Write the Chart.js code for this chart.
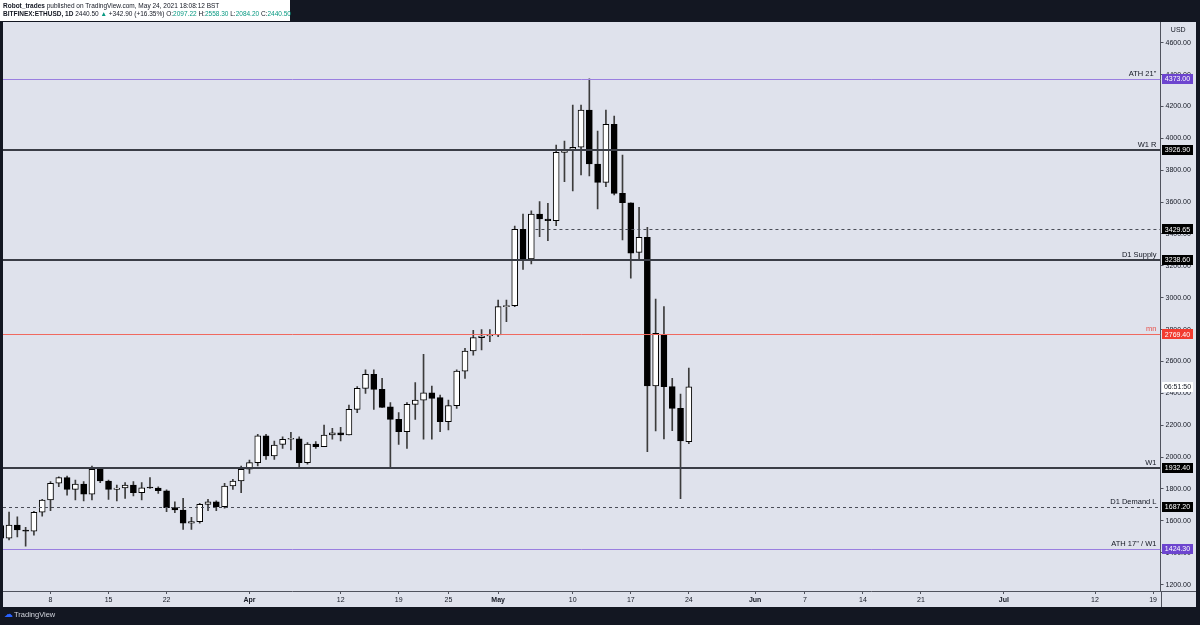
<!DOCTYPE html>
<html>
<head>
<meta charset="utf-8">
<script src="https://cdn.jsdelivr.net/npm/chart.js@4.4.1/dist/chart.umd.min.js"></script>
<style>
  html, body { margin:0; padding:0; width:1200px; height:625px; overflow:hidden; background:#131722; font-family:"Liberation Sans", Arial, sans-serif; }
  #c { position:absolute; left:0; top:0; }
  #hdr { position:absolute; left:0; top:0; width:290px; height:21px; background:#ffffff; color:#131722; font-size:6.5px; line-height:8px; padding:2px 0 0 3px; box-sizing:border-box; white-space:nowrap; }
  #hdr b { font-weight:bold; }
  #hdr .g { color:#089981; }
  #ftr { position:absolute; left:4px; top:609px; color:#d1d4dc; font-size:7.5px; line-height:10px; white-space:nowrap; }
  #ftr .logo { color:#2962ff; font-size:9px; margin-right:1px; }
</style>
</head>
<body>
<canvas id="c" width="1200" height="625"></canvas>
<div id="hdr">
  <div><b>Robot_trades</b> published on TradingView.com, May 24, 2021 18:08:12 BST</div>
  <div><b>BITFINEX:ETHUSD, 1D</b> 2440.50 <span class="g">▲</span> +342.90 (+16.35%) O:<span class="g">2097.22</span> H:<span class="g">2558.30</span> L:<span class="g">2084.20</span> C:<span class="g">2440.50</span></div>
</div>
<div id="ftr"><span class="logo">☁</span>TradingView</div>
<script>
// ---------------- DATA ----------------
const days = [
 '2021-03-02','2021-03-03','2021-03-04','2021-03-05','2021-03-06','2021-03-07','2021-03-08','2021-03-09','2021-03-10','2021-03-11',
 '2021-03-12','2021-03-13','2021-03-14','2021-03-15','2021-03-16','2021-03-17','2021-03-18','2021-03-19','2021-03-20','2021-03-21',
 '2021-03-22','2021-03-23','2021-03-24','2021-03-25','2021-03-26','2021-03-27','2021-03-28','2021-03-29','2021-03-30','2021-03-31',
 '2021-04-01','2021-04-02','2021-04-03','2021-04-04','2021-04-05','2021-04-06','2021-04-07','2021-04-08','2021-04-09','2021-04-10',
 '2021-04-11','2021-04-12','2021-04-13','2021-04-14','2021-04-15','2021-04-16','2021-04-17','2021-04-18','2021-04-19','2021-04-20',
 '2021-04-21','2021-04-22','2021-04-23','2021-04-24','2021-04-25','2021-04-26','2021-04-27','2021-04-28','2021-04-29','2021-04-30',
 '2021-05-01','2021-05-02','2021-05-03','2021-05-04','2021-05-05','2021-05-06','2021-05-07','2021-05-08','2021-05-09','2021-05-10',
 '2021-05-11','2021-05-12','2021-05-13','2021-05-14','2021-05-15','2021-05-16','2021-05-17','2021-05-18','2021-05-19','2021-05-20',
 '2021-05-21','2021-05-22','2021-05-23','2021-05-24'
];
const opens = [
 1570,1491,1574,1543,1535,1654,1731,1836,1871,1798,
 1831,1768,1924,1850,1798,1806,1825,1777,1808,1806,
 1789,1683,1668,1585,1595,1704,1720,1689,1819,1850,
 1924,1965,2134,2007,2080,2112,2114,1965,2082,2065,
 2139,2153,2139,2300,2431,2519,2425,2316,2237,2160,
 2331,2358,2404,2373,2222,2323,2540,2666,2750,2760,
 2766,2944,2950,3429,3243,3525,3494,3483,3912,3931,
 3944,4178,3839,3724,4088,3655,3596,3285,3379,2446,
 2771,2442,2306,2097.22
];
const highs = [
 1600,1655,1626,1560,1660,1735,1846,1877,1881,1856,
 1846,1944,1935,1856,1825,1840,1846,1840,1871,1814,
 1794,1720,1741,1622,1710,1735,1726,1836,1861,1944,
 1982,2143,2143,2101,2128,2155,2128,2091,2097,2201,
 2180,2187,2327,2442,2547,2547,2494,2342,2279,2342,
 2467,2645,2446,2390,2358,2547,2682,2795,2800,2800,
 2986,2986,3450,3525,3546,3603,3592,3958,3983,4209,
 4209,4373,4046,4178,4140,3895,3596,3567,3442,2992,
 2944,2494,2396,2558.30
];
const lows = [
 1462,1480,1500,1442,1511,1630,1664,1814,1762,1731,
 1725,1731,1840,1735,1725,1741,1756,1731,1804,1773,
 1657,1651,1547,1547,1585,1664,1664,1679,1798,1777,
 1898,1944,1986,1986,2055,2045,1940,1955,2055,2065,
 2112,2101,2139,2279,2400,2300,2312,1930,2080,2055,
 2237,2112,2112,2160,2170,2306,2494,2640,2672,2724,
 2756,2850,2944,3178,3212,3383,3358,3452,3728,3670,
 3770,3764,3557,3697,3645,3362,3122,3241,2034,2164,
 2114,2166,1740,2084.20
];
const closes = [
 1491,1574,1543,1535,1654,1731,1836,1871,1798,1831,
 1768,1924,1850,1798,1806,1825,1777,1808,1806,1789,
 1683,1668,1585,1595,1704,1720,1689,1819,1850,1924,
 1965,2134,2007,2076,2112,2114,1965,2082,2065,2139,
 2153,2139,2300,2431,2519,2425,2312,2237,2160,2331,
 2358,2404,2369,2222,2323,2540,2666,2750,2760,2770,
 2944,2950,3429,3243,3525,3494,3483,3912,3931,3944,
 4178,3839,3724,4088,3655,3596,3279,3379,2446,2777,
 2442,2306,2101,2440.50
];
const tickDates = ['2021-03-08','2021-03-15','2021-03-22','2021-04-01','2021-04-12','2021-04-19','2021-04-25','2021-05-01','2021-05-10','2021-05-17','2021-05-24','2021-06-01','2021-06-07','2021-06-14','2021-06-21','2021-07-01','2021-07-12','2021-07-19'];
const tickLabels = ['8','15','22','Apr','12','19','25','May','10','17','24','Jun','7','14','21','Jul','12','19'];
const priceTicks = [1200,1400,1600,1800,2000,2200,2400,2600,2800,3000,3200,3400,3600,3800,4000,4200,4400,4600];
const levelPrices = [4373.00, 3926.90, 3429.65, 3238.60, 2769.40, 1932.40, 1687.20, 1424.30];
const levelNames = ["ATH 21''", 'W1 R', '', 'D1 Supply', 'mn', 'W1', 'D1 Demand L', "ATH 17'' / W1"];
const levelFrom = [null, null, '2021-05-06', null, null, null, null, null];
const levelKinds = ['purple','dark','dash','dark','red','dark','dash','purple'];
const countdownPrice = 2440.50;
const countdownText = '06:51:50';
const axisUnit = 'USD';
const viewStart = '2021-03-02';
const viewEnd = '2021-07-20';

// ---------------- STYLES ----------------
const KIND = {
  purple: { line:'#9a7fe0', width:1, dash:[],    box:'#6d45cf', text:'#131722' },
  dark:   { line:'#3a3d46', width:2, dash:[],    box:'#000000', text:'#131722' },
  dash:   { line:'#4a4d57', width:1, dash:[3,3], box:'#000000', text:'#131722' },
  red:    { line:'#f0695f', width:1, dash:[],    box:'#f23b30', text:'#e8504a' }
};
const BG = '#dfe2ec', AXIS = '#50535e', TXT = '#131722';
const PANEL = { left:3, top:22, right:1196, bottom:607 };

const DAY = 86400000;
const origin = Date.parse('2021-03-08');
const dayNum = s => (Date.parse(s) - origin) / DAY;

const xs = days.map(dayNum);
const bodyData = days.map((d, i) => ({ x: xs[i], y: [opens[i], closes[i]] }));
const wickData = days.map((d, i) => ({ x: xs[i], y: [lows[i], highs[i]] }));
const upFlags = days.map((d, i) => closes[i] >= opens[i]);

Chart.defaults.font.family = '"Liberation Sans", Arial, sans-serif';

const bgPlugin = {
  id: 'bg',
  beforeDraw(chart) {
    const c = chart.ctx;
    c.save();
    c.fillStyle = BG;
    c.fillRect(PANEL.left, PANEL.top, PANEL.right - PANEL.left, PANEL.bottom - PANEL.top);
    c.restore();
  },
  afterDraw(chart) {
    const c = chart.ctx, a = chart.chartArea;
    c.save();
    c.strokeStyle = AXIS; c.lineWidth = 1;
    c.beginPath();
    c.moveTo(Math.round(a.right) + 0.5, a.bottom); c.lineTo(Math.round(a.right) + 0.5, PANEL.bottom);
    c.moveTo(a.right, Math.round(a.bottom) + 0.5); c.lineTo(PANEL.right, Math.round(a.bottom) + 0.5);
    c.stroke();
    c.fillStyle = TXT; c.font = '7px "Liberation Sans", Arial, sans-serif';
    c.textAlign = 'center'; c.textBaseline = 'middle';
    c.fillText(axisUnit, (a.right + PANEL.right) / 2, 30);
    c.restore();
  }
};

const levelPlugin = {
  id: 'levels',
  afterDatasetsDraw(chart) {
    const c = chart.ctx, a = chart.chartArea, ys = chart.scales.y, xsc = chart.scales.x;
    c.save();
    c.beginPath(); c.rect(a.left, a.top, a.right - a.left, a.bottom - a.top); c.clip();
    levelPrices.forEach((p, i) => {
      const k = KIND[levelKinds[i]];
      const y = ys.getPixelForValue(p);
      const yy = k.width % 2 ? Math.round(y) + 0.5 : Math.round(y);
      const x0 = levelFrom[i] ? xsc.getPixelForValue(dayNum(levelFrom[i]) - 0.5) : a.left;
      c.strokeStyle = k.line; c.lineWidth = k.width; c.setLineDash(k.dash);
      c.beginPath(); c.moveTo(x0, yy); c.lineTo(a.right, yy); c.stroke();
      if (levelNames[i]) {
        c.setLineDash([]);
        c.fillStyle = k.text; c.font = '7.5px "Liberation Sans", Arial, sans-serif';
        c.textAlign = 'right'; c.textBaseline = 'alphabetic';
        c.fillText(levelNames[i], a.right - 4, y - 3);
      }
    });
    c.restore();
  },
  afterDraw(chart) {
    const c = chart.ctx, a = chart.chartArea, ys = chart.scales.y;
    c.save();
    c.font = '7px "Liberation Sans", Arial, sans-serif';
    c.textBaseline = 'middle'; c.textAlign = 'center';
    const bx = Math.round(a.right) + 1, bw = 31;
    {
      const y = ys.getPixelForValue(countdownPrice);
      c.fillStyle = '#ffffff'; c.fillRect(bx, Math.round(y) - 5, bw, 10);
      c.fillStyle = TXT; c.fillText(countdownText, bx + bw / 2, y + 0.5);
    }
    levelPrices.forEach((p, i) => {
      const k = KIND[levelKinds[i]];
      const y = ys.getPixelForValue(p);
      c.fillStyle = k.box; c.fillRect(bx, Math.round(y) - 5, bw, 10);
      c.fillStyle = '#ffffff'; c.fillText(p.toFixed(2), bx + bw / 2, y + 0.5);
    });
    c.restore();
  }
};

new Chart(document.getElementById('c'), {
  type: 'bar',
  data: {
    datasets: [
      { label: 'body', data: bodyData, grouped: false, order: 0,
        backgroundColor: upFlags.map(u => u ? '#ffffff' : '#000000'),
        borderColor: '#000000', borderWidth: 1, borderSkipped: false,
        barThickness: 6, minBarLength: 1 },
      { label: 'wick', data: wickData, grouped: false, order: 1,
        backgroundColor: '#3c3c3c', borderWidth: 0, barThickness: 1 }
    ]
  },
  options: {
    responsive: false, maintainAspectRatio: false, animation: false,
    layout: { padding: { left: PANEL.left, top: PANEL.top, right: 1200 - PANEL.right, bottom: 625 - PANEL.bottom } },
    plugins: { legend: { display: false }, tooltip: { enabled: false } },
    scales: {
      x: {
        type: 'linear', offset: false,
        min: dayNum(viewStart) + 0.27, max: dayNum(viewEnd) - 0.1,
        afterBuildTicks: s => { s.ticks = tickDates.map(t => ({ value: dayNum(t) })); },
        afterFit: s => { s.height = 16; },
        grid: { offset: false, drawOnChartArea: false, drawTicks: true, tickLength: 3, color: AXIS },
        border: { color: AXIS, width: 1 },
        ticks: {
          autoSkip: false, maxRotation: 0, padding: 2, color: TXT,
          font: ctx => ({ size: 7, weight: /[A-Za-z]/.test(tickLabels[ctx.index] || '') ? 'bold' : 'normal' }),
          callback: (v, i) => tickLabels[i]
        }
      },
      y: {
        position: 'right', min: 1160, max: 4730,
        afterBuildTicks: s => { s.ticks = priceTicks.map(v => ({ value: v })); },
        afterFit: s => { s.width = 35.5; },
        grid: { drawOnChartArea: false, drawTicks: true, tickLength: 3, color: AXIS },
        border: { color: AXIS, width: 1 },
        ticks: { padding: 2, color: TXT, font: { size: 7 }, callback: v => Number(v).toFixed(2) }
      }
    }
  },
  plugins: [bgPlugin, levelPlugin]
});
</script>
</body>
</html>
